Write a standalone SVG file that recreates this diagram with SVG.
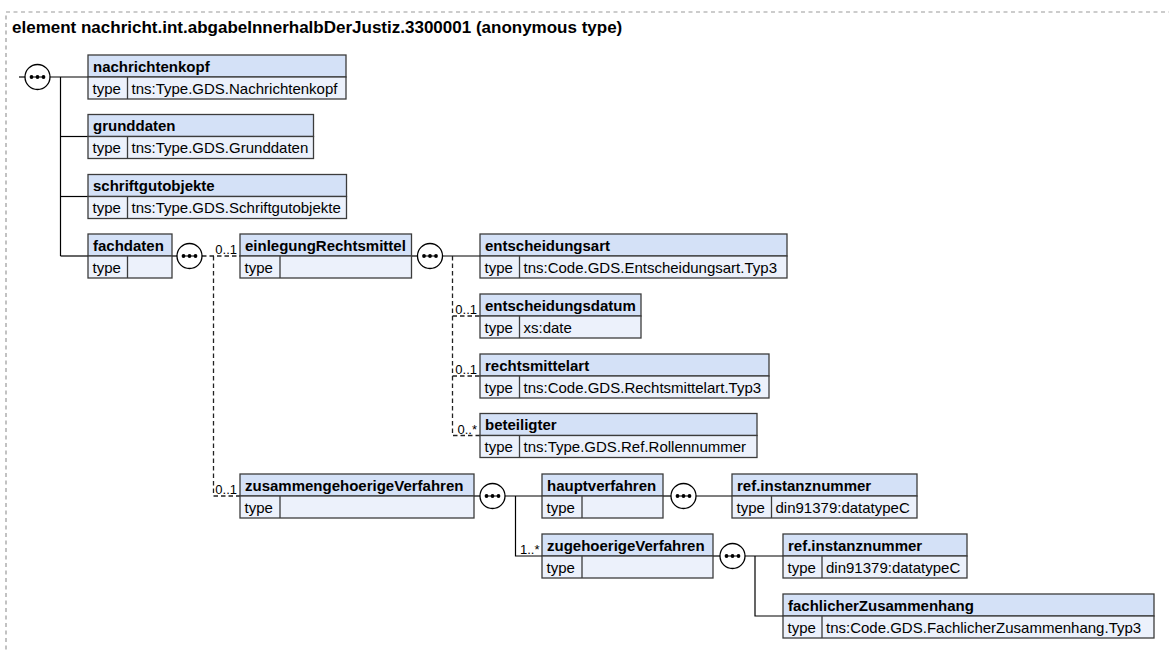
<svg xmlns="http://www.w3.org/2000/svg" xmlns:xlink="http://www.w3.org/1999/xlink" width="1169" height="650" viewBox="0 0 1169 650">
<style>
.hd{fill:#d4e1f7;stroke:#3c3c3c;stroke-width:1.3}
.rw{fill:#ecf1fb;stroke:#3c3c3c;stroke-width:1.3}
.sep{stroke:#3c3c3c;stroke-width:1.3}
.h{font-family:"Liberation Sans",Arial,sans-serif;font-size:15px;font-weight:bold;fill:#000}
.t{font-family:"Liberation Sans",Arial,sans-serif;font-size:15px;fill:#000}
.lb{font-family:"Liberation Sans",Arial,sans-serif;font-size:13px;fill:#000}
.ttl{font-family:"Liberation Sans",Arial,sans-serif;font-size:17px;font-weight:bold;fill:#000}
.ln{stroke:#000;stroke-width:1.2;fill:none}
.dl{stroke:#222;stroke-width:1.3;fill:none;stroke-dasharray:4.5,3}
.frame{fill:none;stroke:#9a9a9a;stroke-width:1.2;stroke-dasharray:4,3.5}
</style>
<defs>
<g id="seq">
<circle cx="0" cy="0" r="12.5" fill="#fff" stroke="#000" stroke-width="1.3"/>
<line x1="-7" y1="0" x2="7" y2="0" stroke="#000" stroke-width="1"/>
<circle cx="-6" cy="0" r="1.9" fill="#000"/>
<circle cx="0" cy="0" r="1.9" fill="#000"/>
<circle cx="6" cy="0" r="1.9" fill="#000"/>
</g>
</defs>
<rect width="1169" height="650" fill="#fff"/>
<rect class="frame" x="6" y="12" width="1300" height="800"/>
<text class="ttl" x="12" y="33">element nachricht.int.abgabeInnerhalbDerJustiz.3300001 (anonymous type)</text>

<g id="connectors">
<line class="ln" x1="19" y1="77" x2="25" y2="77"/>
<line class="ln" x1="50" y1="77" x2="88" y2="77"/>
<line class="ln" x1="60.5" y1="77" x2="60.5" y2="256"/>
<line class="ln" x1="60.5" y1="136.5" x2="88" y2="136.5"/>
<line class="ln" x1="60.5" y1="196.5" x2="88" y2="196.5"/>
<line class="ln" x1="60.5" y1="256" x2="88" y2="256"/>
<line class="ln" x1="172" y1="256" x2="177" y2="256"/>
<path class="dl" d="M202 256 H240 M213.5 256 V496 H240"/>
<line class="ln" x1="411.5" y1="256" x2="418" y2="256"/>
<line class="ln" x1="442.5" y1="256" x2="480" y2="256"/>
<path class="dl" d="M452.5 256 V435.5 H480 M452.5 316 H480 M452.5 376 H480"/>
<line class="ln" x1="474" y1="496" x2="480" y2="496"/>
<path class="ln" d="M505 496 H542 M515.5 496 V556 H542"/>
<line class="ln" x1="663" y1="496" x2="671" y2="496"/>
<line class="ln" x1="696" y1="496" x2="732" y2="496"/>
<line class="ln" x1="713" y1="556" x2="720" y2="556"/>
<path class="ln" d="M745 556 H783 M755 556 V616 H783"/>
<text class="lb" x="237" y="254" text-anchor="end">0..1</text>
<text class="lb" x="237" y="494" text-anchor="end">0..1</text>
<text class="lb" x="477" y="314" text-anchor="end">0..1</text>
<text class="lb" x="477" y="374" text-anchor="end">0..1</text>
<text class="lb" x="477" y="433.5" text-anchor="end">0..*</text>
<text class="lb" x="539.5" y="554" text-anchor="end">1..*</text>
</g>

<g id="seq-root"><use xlink:href="#seq" x="37.5" y="77"/></g>
<g id="seq-fachdaten"><use xlink:href="#seq" x="189.5" y="256"/></g>
<g id="seq-einlegungRechtsmittel"><use xlink:href="#seq" x="430" y="256"/></g>
<g id="seq-zusammengehoerigeVerfahren"><use xlink:href="#seq" x="492.5" y="496"/></g>
<g id="seq-hauptverfahren"><use xlink:href="#seq" x="683.5" y="496"/></g>
<g id="seq-zugehoerigeVerfahren"><use xlink:href="#seq" x="732.5" y="556"/></g>

<g id="n-nachrichtenkopf">
<rect class="hd" x="88" y="55" width="258" height="22"/><rect class="rw" x="88" y="77" width="258" height="22"/>
<line class="sep" x1="127.5" y1="77" x2="127.5" y2="99"/>
<text class="h" x="93" y="71.5">nachrichtenkopf</text><text class="t" x="92.5" y="93.5">type</text><text class="t" x="131.5" y="93.5">tns:Type.GDS.Nachrichtenkopf</text>
</g>
<g id="n-grunddaten">
<rect class="hd" x="88" y="114.5" width="225.5" height="22"/><rect class="rw" x="88" y="136.5" width="225.5" height="22"/>
<line class="sep" x1="127.5" y1="136.5" x2="127.5" y2="158.5"/>
<text class="h" x="93" y="131">grunddaten</text><text class="t" x="92.5" y="153">type</text><text class="t" x="131.5" y="153">tns:Type.GDS.Grunddaten</text>
</g>
<g id="n-schriftgutobjekte">
<rect class="hd" x="88" y="174.5" width="258.5" height="22"/><rect class="rw" x="88" y="196.5" width="258.5" height="22"/>
<line class="sep" x1="127.5" y1="196.5" x2="127.5" y2="218.5"/>
<text class="h" x="93" y="191">schriftgutobjekte</text><text class="t" x="92.5" y="213">type</text><text class="t" x="131.5" y="213">tns:Type.GDS.Schriftgutobjekte</text>
</g>
<g id="n-fachdaten">
<rect class="hd" x="88" y="234" width="84" height="22"/><rect class="rw" x="88" y="256" width="84" height="22"/>
<line class="sep" x1="127.5" y1="256" x2="127.5" y2="278"/>
<text class="h" x="93" y="250.5">fachdaten</text><text class="t" x="92.5" y="272.5">type</text>
</g>
<g id="n-einlegungRechtsmittel">
<rect class="hd" x="240" y="234" width="171.5" height="22"/><rect class="rw" x="240" y="256" width="171.5" height="22"/>
<line class="sep" x1="280" y1="256" x2="280" y2="278"/>
<text class="h" x="245" y="250.5">einlegungRechtsmittel</text><text class="t" x="244.5" y="272.5">type</text>
</g>
<g id="n-entscheidungsart">
<rect class="hd" x="480" y="234" width="307" height="22"/><rect class="rw" x="480" y="256" width="307" height="22"/>
<line class="sep" x1="519.5" y1="256" x2="519.5" y2="278"/>
<text class="h" x="485" y="250.5">entscheidungsart</text><text class="t" x="484.5" y="272.5">type</text><text class="t" x="523.5" y="272.5">tns:Code.GDS.Entscheidungsart.Typ3</text>
</g>
<g id="n-entscheidungsdatum">
<rect class="hd" x="480" y="294" width="161" height="22"/><rect class="rw" x="480" y="316" width="161" height="22"/>
<line class="sep" x1="519.5" y1="316" x2="519.5" y2="338"/>
<text class="h" x="485" y="310.5">entscheidungsdatum</text><text class="t" x="484.5" y="332.5">type</text><text class="t" x="523.5" y="332.5">xs:date</text>
</g>
<g id="n-rechtsmittelart">
<rect class="hd" x="480" y="354" width="289" height="22"/><rect class="rw" x="480" y="376" width="289" height="22"/>
<line class="sep" x1="519.5" y1="376" x2="519.5" y2="398"/>
<text class="h" x="485" y="370.5">rechtsmittelart</text><text class="t" x="484.5" y="392.5">type</text><text class="t" x="523.5" y="392.5">tns:Code.GDS.Rechtsmittelart.Typ3</text>
</g>
<g id="n-beteiligter">
<rect class="hd" x="480" y="413.5" width="277" height="22"/><rect class="rw" x="480" y="435.5" width="277" height="22"/>
<line class="sep" x1="519.5" y1="435.5" x2="519.5" y2="457.5"/>
<text class="h" x="485" y="430">beteiligter</text><text class="t" x="484.5" y="452">type</text><text class="t" x="523.5" y="452">tns:Type.GDS.Ref.Rollennummer</text>
</g>
<g id="n-zusammengehoerigeVerfahren">
<rect class="hd" x="240" y="474" width="234" height="22"/><rect class="rw" x="240" y="496" width="234" height="22"/>
<line class="sep" x1="280" y1="496" x2="280" y2="518"/>
<text class="h" x="245" y="490.5">zusammengehoerigeVerfahren</text><text class="t" x="244.5" y="512.5">type</text>
</g>
<g id="n-hauptverfahren">
<rect class="hd" x="542" y="474" width="121" height="22"/><rect class="rw" x="542" y="496" width="121" height="22"/>
<line class="sep" x1="582" y1="496" x2="582" y2="518"/>
<text class="h" x="547" y="490.5">hauptverfahren</text><text class="t" x="546.5" y="512.5">type</text>
</g>
<g id="n-ref-instanznummer-1">
<rect class="hd" x="732" y="474" width="185" height="22"/><rect class="rw" x="732" y="496" width="185" height="22"/>
<line class="sep" x1="771.5" y1="496" x2="771.5" y2="518"/>
<text class="h" x="737" y="490.5">ref.instanznummer</text><text class="t" x="736.5" y="512.5">type</text><text class="t" x="775.5" y="512.5">din91379:datatypeC</text>
</g>
<g id="n-zugehoerigeVerfahren">
<rect class="hd" x="542" y="534" width="171" height="22"/><rect class="rw" x="542" y="556" width="171" height="22"/>
<line class="sep" x1="582" y1="556" x2="582" y2="578"/>
<text class="h" x="547" y="550.5">zugehoerigeVerfahren</text><text class="t" x="546.5" y="572.5">type</text>
</g>
<g id="n-ref-instanznummer-2">
<rect class="hd" x="783" y="534" width="184" height="22"/><rect class="rw" x="783" y="556" width="184" height="22"/>
<line class="sep" x1="822" y1="556" x2="822" y2="578"/>
<text class="h" x="788" y="550.5">ref.instanznummer</text><text class="t" x="787.5" y="572.5">type</text><text class="t" x="826" y="572.5">din91379:datatypeC</text>
</g>
<g id="n-fachlicherZusammenhang">
<rect class="hd" x="783" y="594" width="371" height="22"/><rect class="rw" x="783" y="616" width="371" height="22"/>
<line class="sep" x1="822" y1="616" x2="822" y2="638"/>
<text class="h" x="788" y="610.5">fachlicherZusammenhang</text><text class="t" x="787.5" y="632.5">type</text><text class="t" x="826" y="632.5">tns:Code.GDS.FachlicherZusammenhang.Typ3</text>
</g>
</svg>
